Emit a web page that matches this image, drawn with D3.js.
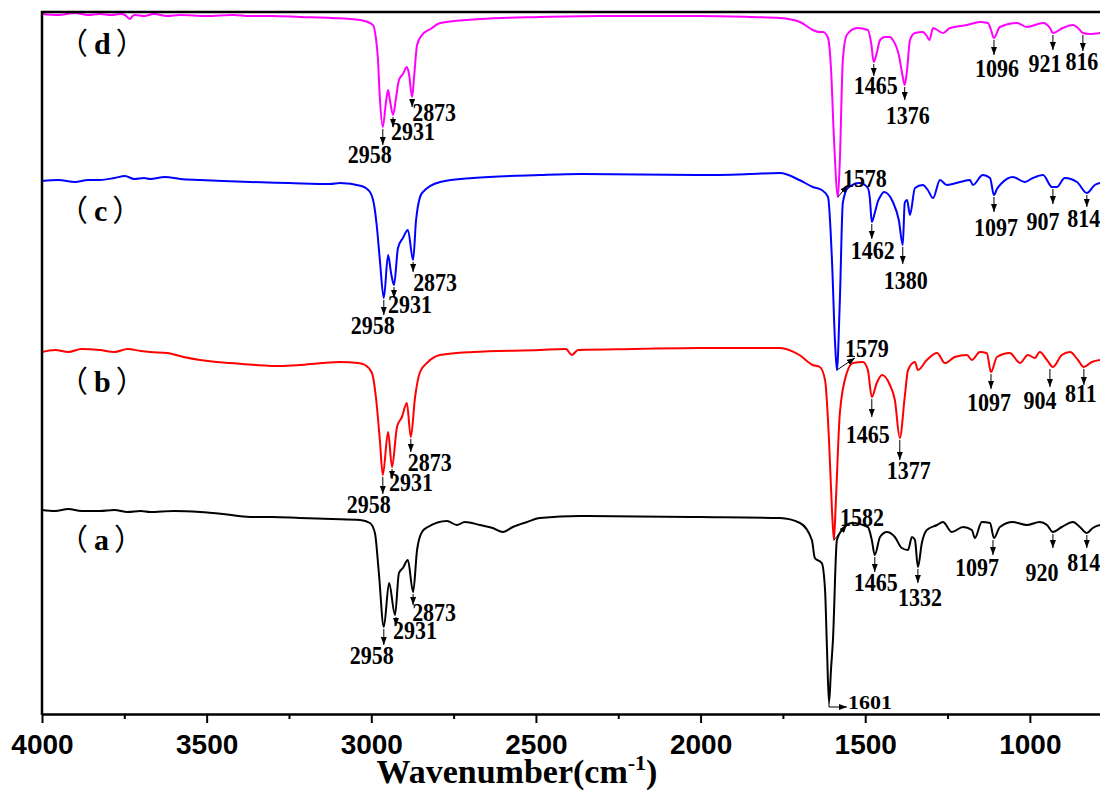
<!DOCTYPE html>
<html>
<head>
<meta charset="utf-8">
<script src="https://cdn.jsdelivr.net/npm/d3@7"></script>
<style>
  body { margin: 0; background: #fff; }
  svg { display: block; }
  .tick text { font-family: Arial, "Liberation Sans", sans-serif; font-weight: bold; font-size: 28px; }
  .pk { font-family: "Times New Roman", "Liberation Serif", serif; font-weight: bold; font-size: 22px; }
</style>
</head>
<body>
<svg id="chart" width="1100" height="792"></svg>
<script>
(function(){
    // spectra, [wavenumber, intensity (a.u., curves already offset)]
    var specA = [[4000,203],[3960,202],[3920,204],[3880,202],[3824,202],[3780,203],[3740,201],[3700,202],[3672,201],[3600,202],[3520,201],[3450,199],[3368,196],[3300,196],[3217,195],[3120,194],[3034,193],[3004,190],[2989,180],[2977,140],[2962,86],[2946,130],[2928,98],[2916,140],[2904,145],[2889,153],[2873,121],[2861,163],[2846,181],[2828,186],[2770,192],[2740,188],[2716,191],[2670,188],[2631,185],[2600,181],[2570,186],[2527,191],[2488,195],[2366,197],[2002,196],[1759,195],[1698,190],[1662,173],[1653,155],[1632,150],[1622,123],[1616,63],[1610,10],[1604,43],[1598,73],[1586,173],[1571,183],[1540,190],[1492,186],[1480,173],[1471,158],[1455,176],[1434,181],[1410,176],[1389,165],[1370,163],[1358,176],[1349,173],[1340,146],[1328,170],[1313,183],[1282,188],[1264,191],[1237,181],[1203,186],[1176,183],[1167,175],[1146,191],[1121,190],[1109,175],[1091,186],[1052,191],[1009,188],[970,191],[948,188],[930,181],[903,186],[869,191],[848,186],[827,180],[809,185],[787,188]];
    var specB = [[4000,361],[3960,363],[3920,361],[3880,364],[3824,363],[3780,361],[3740,364],[3700,362],[3672,361],[3620,360],[3570,356],[3520,353],[3470,351],[3429,350],[3350,348],[3277,347],[3217,348],[3150,350],[3095,351],[3040,350],[3019,348],[2998,340],[2986,316],[2974,273],[2965,238],[2949,281],[2937,246],[2922,286],[2907,296],[2892,310],[2880,276],[2867,316],[2852,341],[2828,351],[2791,358],[2691,361],[2488,363],[2409,364],[2391,358],[2372,363],[2200,364],[2002,365],[1759,365],[1700,358],[1659,348],[1638,346],[1622,333],[1610,273],[1601,203],[1595,173],[1589,213],[1577,300],[1556,340],[1537,350],[1507,351],[1492,343],[1480,316],[1465,330],[1449,338],[1425,328],[1410,313],[1395,275],[1380,316],[1370,343],[1349,351],[1340,343],[1313,353],[1282,360],[1258,350],[1228,356],[1191,358],[1176,353],[1152,361],[1131,360],[1118,341],[1100,356],[1061,360],[1030,350],[1006,358],[985,355],[970,361],[948,353],[930,346],[903,358],[878,361],[854,353],[836,346],[812,351],[787,353]];
    var specC = [[4000,532],[3950,533],[3900,531],[3860,533],[3824,533],[3780,535],[3748,537],[3720,534],[3690,535],[3672,534],[3627,536],[3580,534],[3520,533],[3450,532],[3368,531],[3250,530],[3125,529],[3095,530],[3030,527],[3004,521],[2990,505],[2983,486],[2974,453],[2962,415],[2949,458],[2940,440],[2931,428],[2919,465],[2904,475],[2889,483],[2873,453],[2864,493],[2846,520],[2791,531],[2691,535],[2488,538],[2366,539],[2002,538],[1850,539],[1759,540],[1700,533],[1659,526],[1632,523],[1613,516],[1601,453],[1592,373],[1586,343],[1577,413],[1568,510],[1553,525],[1516,530],[1492,525],[1486,515],[1480,491],[1471,500],[1461,512],[1455,516],[1443,521],[1416,511],[1398,493],[1386,468],[1380,510],[1373,513],[1364,498],[1349,525],[1325,528],[1310,523],[1294,515],[1273,533],[1252,528],[1212,531],[1182,533],[1173,528],[1143,538],[1121,535],[1109,518],[1100,524],[1085,530],[1052,536],[1015,531],[991,535],[960,538],[933,526],[918,526],[894,535],[857,531],[827,520],[803,528],[787,530]];
    var specD = [[4000,699],[3950,698],[3900,700],[3860,698],[3824,699],[3790,698],[3760,699],[3748,698],[3733,694],[3725,697],[3718,698],[3690,697],[3660,699],[3620,697],[3581,698],[3500,697],[3420,698],[3368,697],[3300,697],[3217,696],[3120,695],[3034,693],[2995,688],[2986,675],[2980,655],[2974,615],[2965,586],[2955,612],[2949,623],[2943,612],[2934,598],[2925,615],[2916,633],[2904,639],[2892,646],[2886,640],[2876,616],[2870,636],[2861,668],[2846,678],[2820,684],[2791,690],[2670,694],[2488,696],[2306,697],[2002,697],[1850,696],[1759,695],[1698,691],[1659,683],[1640,681],[1628,681],[1613,675],[1604,645],[1595,575],[1583,516],[1577,553],[1568,653],[1556,678],[1525,685],[1492,683],[1482,670],[1474,651],[1465,660],[1455,673],[1440,676],[1425,676],[1416,673],[1398,658],[1388,640],[1380,628],[1373,643],[1364,673],[1349,680],[1325,681],[1313,677],[1305,673],[1294,685],[1264,680],[1243,685],[1191,688],[1152,691],[1127,690],[1118,683],[1109,675],[1091,686],[1039,690],[1009,686],[960,690],[939,685],[930,680],[900,685],[869,688],[854,685],[839,680],[817,679],[787,680]];

    var names = ['a','b','c','d'];
    var colors = ['#000000','#ff0000','#0000ff','#ff00ff'];

    // peak labels: [text, wavenumber, arrow length, text dx, text gap]
    var annA = [['2958',2962,16,-12,19],['2931',2925,9,19,13],['2873',2873,11,21,16],['1465',1471,15,1,19],['1332',1340,14,2,23],['1097',1112,15,-16,21],['920',930,14,-11,33],['814',827,13,-3,23]];
    var annB = [['2958',2965,17,-14,19],['2931',2937,10,19,12],['2873',2880,13,19,19],['1465',1480,18,-4,26],['1377',1395,20,9,19],['1097',1118,15,-2,22],['904',939,18,-10,22],['811',836,16,-3,17]];
    var annC = [['2958',2962,15,-11,19],['2931',2931,11,16,15],['2873',2873,10,22,19],['1462',1480,15,1,20],['1380',1386,17,3,25],['1097',1109,15,2,24],['907',930,15,-10,26],['814',827,12,-3,20]];
    var annD = [['2958',2965,16,-13,18],['2931',2934,10,20,13],['2873',2876,8,22,14],['1465',1474,12,2,18],['1376',1380,13,3,24],['1096',1109,15,3,22],['921',930,15,-8,22],['816',839,16,-1,19]];
    // slanted arrows at the ring band: [series, text, wavenumber, dx, dy, text dx, text dy]
    var diag = [[1,'1582',1595,13,-15,6,-14],[2,'1579',1586,18,-12,8,-13],[3,'1578',1583,10,-12,5,-10]];

    var xTicks = [4000,3500,3000,2500,2000,1500,1000];
    var xMinor = [3750,3250,2750,2250,1750,1250];

    var specs = [specA, specB, specC, specD];
    var anns = [annA, annB, annC, annD];

    var svg = d3.select('#chart');
    var x = d3.scaleLinear().domain([4000, 787]).range([42, 1100]);
    var y = d3.scaleLinear().domain([0, 700]).range([713, 13]);

    svg.append('defs').append('marker')
        .attr('id','ah')
        .attr('viewBox','0 0 8 6')
        .attr('refX',8).attr('refY',3)
        .attr('markerWidth',8).attr('markerHeight',6)
        .attr('markerUnits','userSpaceOnUse')
        .attr('orient','auto')
      .append('path').attr('d','M0,0L8,3L0,6z').attr('fill','#000');

    var line = d3.line()
        .curve(d3.curveMonotoneX)
        .x(function(d){ return x(d[0]) })
        .y(function(d){ return y(d[1]) });

    specs.forEach(function(s, i){
        svg.append('path')
            .datum(s)
            .attr('d', line)
            .attr('fill','none')
            .attr('stroke', colors[i])
            .attr('stroke-width', 2)
            .attr('stroke-linejoin','round');

        // series tag, full-width brackets
        var t = svg.append('text')
            .attr('x', 58)
            .attr('y', y(s[0][1]) + 40)
            .style('font-weight','bold')
            .style('font-size','30px');
        t.append('tspan').style('font-family','"Noto Sans CJK SC", sans-serif').style('font-weight','normal').text('（');
        t.append('tspan').attr('dx',6).style('font-family','"Liberation Serif", serif').text(names[i]);
        t.append('tspan').attr('dx',5).style('font-family','"Noto Sans CJK SC", sans-serif').style('font-weight','normal').text('）');
    });

    // lowest point of a curve near a wavenumber
    function dip(s, wn){
        var v = s.filter(function(d){ return Math.abs(d[0]-wn) <= 10 }).map(function(d){ return d[1] });
        return v.length ? d3.min(v) : s[0][1];
    }

    function label(px, py, txt, anchor, sy){
        return g.append('text')
            .attr('class','pk')
            .attr('text-anchor', anchor)
            .attr('transform','translate('+px+','+py+') scale(1,'+sy+')')
            .text(txt);
    }

    var g = svg.append('g');
    anns.forEach(function(a, i){
        a.forEach(function(p){
            var px = x(p[1]);
            var top = y(dip(specs[i], p[1])) + 2;
            var bot = top + p[2];
            g.append('line')
                .attr('x1',px).attr('x2',px).attr('y1',top).attr('y2',bot)
                .attr('stroke','#000').attr('stroke-width',1)
                .attr('marker-end','url(#ah)');
            label(px + p[3], bot + p[4], p[0], 'middle', 1.15);
        });
    });

    diag.forEach(function(p){
        var px = x(p[2]), py = y(specs[p[0]].find(function(d){ return d[0]===p[2] })[1]);
        g.append('line')
            .attr('x1',px).attr('y1',py).attr('x2',px+p[3]).attr('y2',py+p[4])
            .attr('stroke','#000').attr('stroke-width',1)
            .attr('marker-end','url(#ah)');
        label(px+p[5], py+p[6], p[1], 'start', 1.15);
    });

    // 1601: bent arrow under the deepest band
    var b0 = specA.find(function(d){ return d[0]===1610 });
    var bx = x(b0[0]), by = y(b0[1]);
    g.append('path')
        .attr('d','M'+bx+','+by+'V'+(by+4)+'H'+(bx+18))
        .attr('fill','none').attr('stroke','#000').attr('stroke-width',1)
        .attr('marker-end','url(#ah)');
    label(bx+19, by+6, '1601', 'start', 0.85);

    // axes / frame
    var xAxis = svg.append('g')
        .attr('transform','translate(0,714)')
        .call(d3.axisBottom(x).tickValues(xTicks).tickFormat(d3.format('d')).tickSize(9).tickSizeOuter(0).tickPadding(11));
    xAxis.select('.domain').attr('stroke-width',2.5);
    xAxis.selectAll('.tick line').attr('stroke-width',2);

    svg.append('g')
        .attr('transform','translate(0,714)')
        .call(d3.axisBottom(x).tickValues(xMinor).tickFormat('').tickSize(5).tickSizeOuter(0))
        .call(function(a){ a.select('.domain').remove(); a.selectAll('.tick line').attr('stroke-width',2); });

    svg.append('line').attr('x1',42).attr('x2',42).attr('y1',11).attr('y2',715)
        .attr('stroke','#000').attr('stroke-width',2.5);
    svg.append('line').attr('x1',41).attr('x2',1100).attr('y1',12).attr('y2',12)
        .attr('stroke','#000').attr('stroke-width',2.5);

    var title = svg.append('text')
        .attr('x', 517).attr('y', 783)
        .attr('text-anchor','middle')
        .style('font-family','"Times New Roman", "Liberation Serif", serif')
        .style('font-weight','bold')
        .style('font-size','34px');
    title.append('tspan').text('Wavenumber(cm');
    title.append('tspan').attr('dy',-13).style('font-size','22px').text('-1');
    title.append('tspan').attr('dy',13).text(')');
})();
</script>
</body>
</html>
